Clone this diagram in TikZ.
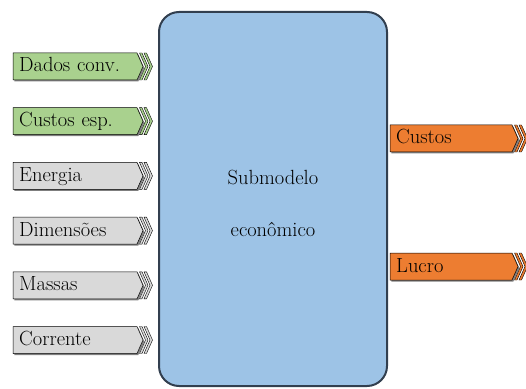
\documentclass[tikz,border=0pt]{standalone}
\definecolor{ingreen}{HTML}{A9D18E}
\definecolor{ingray}{HTML}{D9D9D9}
\definecolor{outorange}{HTML}{ED7D31}
\definecolor{mainfill}{HTML}{9DC3E6}
\definecolor{mainedge}{HTML}{323F4F}
\definecolor{shadowc}{HTML}{7F7F7F}
\tikzset{
  mainbox/.style={draw=mainedge, line width=2pt, fill=mainfill, rounded corners=20pt,
    minimum width=228pt, minimum height=374pt, inner sep=0pt},
  bigtext/.style={font=\fontsize{20.5}{24}\selectfont, inner sep=0pt},
  flowtext/.style={font=\fontsize{20.5}{24}\selectfont, anchor=west, align=left,
    inner xsep=6pt, inner ysep=0pt, minimum height=27pt, text height=14pt, text depth=3pt},
  bodyline/.style={draw=black, line width=0.5pt},
  chevline/.style={draw=black, line width=0.4pt},
}
% #1 name, #2 x, #3 y (centre), #4 body width, #5 fill colour, #6 text
\newcommand{\flowbox}[6]{%
  \coordinate (#1-w) at (#2,#3);
  \fill[shadowc] ([shift={(1.3,-1.5)}]#1-w) ++(0,13.5) -- ++(#4,0) -- ++(6,-13.5) -- ++(-6,-13.5) -- ++(-#4,0) -- cycle;
  \path[bodyline, fill=#5] (#1-w) ++(0,13.5) -- ++(#4,0) -- ++(6,-13.5) -- ++(-6,-13.5) -- ++(-#4,0) -- cycle;
  \foreach \k in {0,1} {
    \path[chevline, fill=#5] ([xshift={#4+2.5+\k*4.5}]#1-w) ++(0,13.5) -- ++(2.5,0) -- ++(6,-13.5) -- ++(-6,-13.5) -- ++(-2.5,0) -- ++(6,13.5) -- cycle;
  }
  \node[flowtext, text width={#4-12}, minimum width=#4] (#1) at (#1-w) {#6};
}
\begin{document}
\begin{tikzpicture}[x=1pt, y=1pt]
  \useasboundingbox (0,0) rectangle (526,388);
  \clip (0,0) rectangle (526,388);
  \node[mainbox] (sub) at (273,189) {};
  \node[bigtext, anchor=base] (sub1) at (273,203) {Submodelo};
  \node[bigtext, anchor=base] (sub2) at (273,151) {econômico};

  \flowbox{dados}{13}{321.5}{124}{ingreen}{Dados conv.}
  \flowbox{custesp}{13}{266.8}{124}{ingreen}{Custos esp.}
  \flowbox{energia}{13}{212.1}{124}{ingray}{Energia}
  \flowbox{dimens}{13}{157.4}{124}{ingray}{Dimensões}
  \flowbox{massas}{13}{102.7}{124}{ingray}{Massas}
  \flowbox{corrente}{13}{48}{124}{ingray}{Corrente}

  \flowbox{custos}{390}{249.5}{122}{outorange}{Custos}
  \flowbox{lucro}{390}{121.5}{122}{outorange}{Lucro}
\end{tikzpicture}
\end{document}
